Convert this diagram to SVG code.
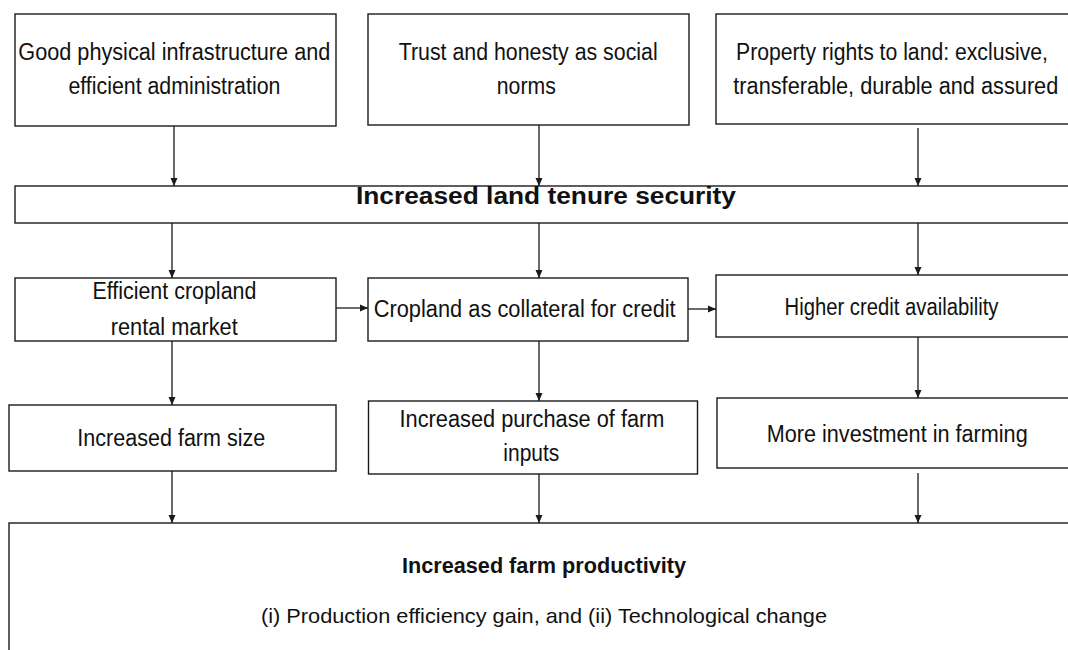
<svg xmlns="http://www.w3.org/2000/svg" width="1068" height="650" viewBox="0 0 1068 650">
  <style>
    .box { fill: #ffffff; stroke: #1a1a1a; stroke-width: 1.4; }
    .lbl { font-family: "Liberation Sans", Arial, sans-serif; font-size: 23px; fill: #111111; text-anchor: middle; }
    .sm { font-size: 21px; }
    .bold { font-weight: bold; font-size: 22px; }
    .band { font-size: 23px; }
    .conn { stroke: #1a1a1a; stroke-width: 1.3; fill: none; marker-end: url(#arrow); }
  </style>
  <defs>
    <marker id="arrow" markerUnits="userSpaceOnUse" markerWidth="9" markerHeight="8" refX="8" refY="4" orient="auto">
      <path d="M0,0.5 L8,4 L0,7.5 z" fill="#1a1a1a"/>
    </marker>
  </defs>
  <rect width="1068" height="650" fill="#ffffff"/>

  <!-- Top row: preconditions -->
  <g id="infrastructure">
    <rect class="box" x="15" y="14" width="321" height="112"/>
    <text class="lbl" x="174.3" y="60" textLength="312" lengthAdjust="spacingAndGlyphs">Good physical infrastructure and</text>
    <text class="lbl" x="174.4" y="94" textLength="212" lengthAdjust="spacingAndGlyphs">efficient administration</text>
  </g>
  <g id="trust">
    <rect class="box" x="368" y="14" width="321" height="111"/>
    <text class="lbl" x="528.2" y="60" textLength="259" lengthAdjust="spacingAndGlyphs">Trust and honesty as social</text>
    <text class="lbl" x="526.3" y="94" textLength="59" lengthAdjust="spacingAndGlyphs">norms</text>
  </g>
  <g id="property-rights">
    <rect class="box" x="716" y="14" width="354" height="110"/>
    <text class="lbl" x="892" y="60" textLength="312" lengthAdjust="spacingAndGlyphs">Property rights to land: exclusive,</text>
    <text class="lbl" x="895.8" y="94" textLength="325" lengthAdjust="spacingAndGlyphs">transferable, durable and assured</text>
  </g>

  <!-- Central band -->
  <g id="tenure-security">
    <rect class="box" x="15" y="186" width="1055" height="37"/>
    <text class="lbl bold band" x="546" y="204" textLength="380" lengthAdjust="spacingAndGlyphs">Increased land tenure security</text>
  </g>

  <!-- Middle row: channels -->
  <g id="rental-market">
    <rect class="box" x="15" y="278" width="321" height="63"/>
    <text class="lbl" x="174.4" y="299" textLength="164" lengthAdjust="spacingAndGlyphs">Efficient cropland</text>
    <text class="lbl" x="174.2" y="335" textLength="127" lengthAdjust="spacingAndGlyphs">rental market</text>
  </g>
  <g id="collateral">
    <rect class="box" x="368" y="278" width="320" height="63"/>
    <text class="lbl" x="524.7" y="317" textLength="302" lengthAdjust="spacingAndGlyphs">Cropland as collateral for credit</text>
  </g>
  <g id="credit">
    <rect class="box" x="716" y="275" width="354" height="62"/>
    <text class="lbl" x="891.5" y="315" textLength="214" lengthAdjust="spacingAndGlyphs">Higher credit availability</text>
  </g>

  <!-- Lower row: outcomes -->
  <g id="farm-size">
    <rect class="box" x="9" y="405" width="327" height="66"/>
    <text class="lbl" x="171.3" y="446" textLength="188" lengthAdjust="spacingAndGlyphs">Increased farm size</text>
  </g>
  <g id="farm-inputs">
    <rect class="box" x="368.5" y="401" width="329" height="73"/>
    <text class="lbl" x="532" y="427" textLength="265" lengthAdjust="spacingAndGlyphs">Increased purchase of farm</text>
    <text class="lbl" x="531.3" y="461" textLength="56" lengthAdjust="spacingAndGlyphs">inputs</text>
  </g>
  <g id="investment">
    <rect class="box" x="717" y="398" width="353" height="70"/>
    <text class="lbl" x="897.2" y="442" textLength="261" lengthAdjust="spacingAndGlyphs">More investment in farming</text>
  </g>

  <!-- Final result -->
  <g id="productivity">
    <rect class="box" x="9" y="523" width="1075" height="140"/>
    <text class="lbl bold" x="544" y="573" textLength="284" lengthAdjust="spacingAndGlyphs">Increased farm productivity</text>
    <text class="lbl sm" x="544" y="623" textLength="566" lengthAdjust="spacingAndGlyphs">(i) Production efficiency gain, and (ii) Technological change</text>
  </g>

  <!-- Connectors -->
  <g id="connectors">
    <line class="conn" x1="174" y1="126" x2="174" y2="186"/>
    <line class="conn" x1="539" y1="125" x2="539" y2="186"/>
    <line class="conn" x1="918" y1="128" x2="918" y2="186"/>
    <line class="conn" x1="172" y1="223" x2="172" y2="278"/>
    <line class="conn" x1="539" y1="223" x2="539" y2="278"/>
    <line class="conn" x1="918" y1="223" x2="918" y2="275"/>
    <line class="conn" x1="336" y1="308" x2="368" y2="308"/>
    <line class="conn" x1="688" y1="309" x2="716" y2="309"/>
    <line class="conn" x1="172" y1="341" x2="172" y2="405"/>
    <line class="conn" x1="539" y1="341" x2="539" y2="401"/>
    <line class="conn" x1="918" y1="337" x2="918" y2="398"/>
    <line class="conn" x1="172" y1="471" x2="172" y2="523"/>
    <line class="conn" x1="539" y1="474" x2="539" y2="523"/>
    <line class="conn" x1="918" y1="473" x2="918" y2="523"/>
  </g>
</svg>
